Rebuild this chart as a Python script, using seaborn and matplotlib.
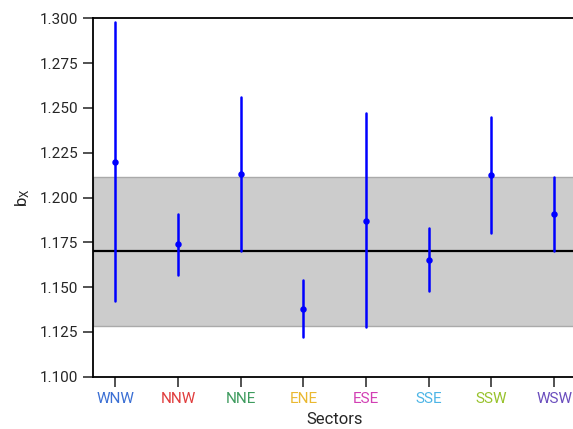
import pandas as pd
import matplotlib
matplotlib.use("Agg")
import matplotlib.pyplot as plt
import seaborn as sns

# values
sectors = ["WNW", "NNW", "NNE", "ENE", "ESE", "SSE", "SSW", "WSW"]
b_x = [1.220, 1.174, 1.213, 1.138, 1.187, 1.165, 1.2125, 1.191]
b_low = [1.142, 1.157, 1.170, 1.122, 1.128, 1.148, 1.180, 1.170]
b_high = [1.298, 1.191, 1.256, 1.154, 1.247, 1.183, 1.245, 1.2115]
label_colors = ["#3b6fd4", "#e03c3c", "#3e9b5e", "#eab830", "#d23fb4", "#4db5e6", "#98c22c", "#6a4dbd"]

mean_b = 1.1703
band_low = 1.1284
band_high = 1.2114

# long table: low / centre / high per sector, median + full range gives the bar
df = pd.DataFrame({
    "Sectors": sectors * 3,
    "b": b_low + b_x + b_high,
})

sns.set_theme(style="ticks")
plt.rcParams["font.family"] = ["Roboto", "DejaVu Sans"]
plt.rcParams["mathtext.default"] = "regular"

fig = plt.figure(figsize=(5.73, 4.29), dpi=100)
ax = fig.add_axes([0.1628, 0.1219, 0.8426, 0.8354])

ax.axhspan(band_low, band_high, facecolor="#cccccc", edgecolor="#aaaaaa", linewidth=1, zorder=0)
ax.axhline(mean_b, color="black", linewidth=1.6, zorder=1)

sns.pointplot(data=df, x="Sectors", y="b", order=sectors, estimator="median",
              errorbar=("pi", 100), linestyle="none", color="blue", markers="o",
              markersize=2.6, err_kws={"linewidth": 1.8}, ax=ax, zorder=3)

ax.set_xlim(-0.35, 7.35)
ax.set_ylim(1.100, 1.300)
ax.set_yticks([1.100 + 0.025 * i for i in range(9)])
ax.set_yticklabels([f"{1.100 + 0.025 * i:.3f}" for i in range(9)])
ax.set_xlabel("Sectors", fontsize=12, labelpad=4)
ax.set_ylabel("b$_X$", fontsize=12, labelpad=5)

for lbl, c in zip(ax.get_xticklabels(), label_colors):
    lbl.set_color(c)

ax.tick_params(axis="both", length=7, width=1.2, labelsize=11, pad=4, color="#333333")
for side in ["left", "bottom", "top", "right"]:
    ax.spines[side].set_linewidth(1.3)
    ax.spines[side].set_color("black")

fig.savefig("out.png", dpi=100)
